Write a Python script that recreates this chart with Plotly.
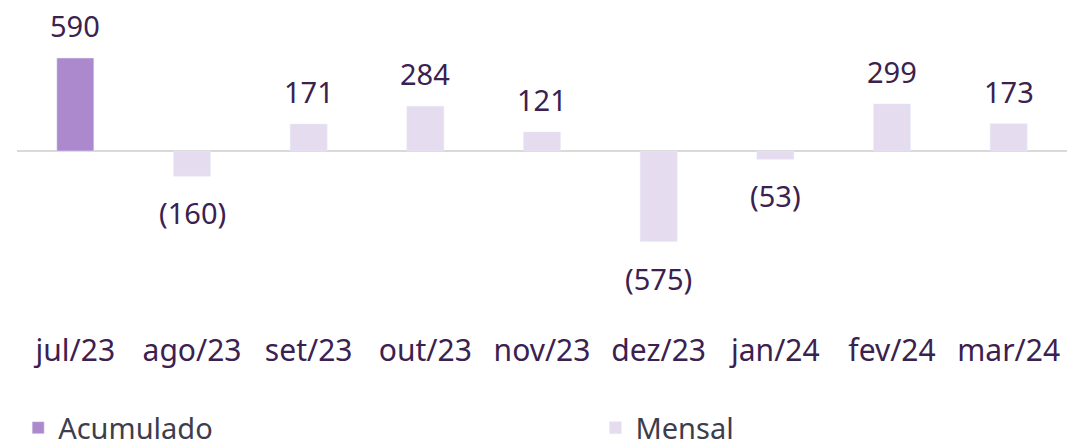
import plotly.graph_objects as go

categories = ["jul/23", "ago/23", "set/23", "out/23", "nov/23", "dez/23", "jan/24", "fev/24", "mar/24"]
acumulado = [590, None, None, None, None, None, None, None, None]
mensal = [None, -160, 171, 284, 121, -575, -53, 299, 173]

FONT = "Century Gothic, URW Gothic, Noto Sans, sans-serif"
TXT = "#3b2150"
C_ACUM = "#ac88cc"
C_MENS = "#e5dcef"


def fmt(v):
    return f"({abs(v):,})" if v < 0 else f"{v:,}"


fig = go.Figure()
fig.add_trace(go.Bar(x=categories, y=acumulado, name="Acumulado", marker_color=C_ACUM,
                     width=0.317, legend="legend"))
fig.add_trace(go.Bar(x=categories, y=mensal, name="Mensal", marker_color=C_MENS,
                     width=0.317, legend="legend2"))

for series in (acumulado, mensal):
    for c, v in zip(categories, series):
        if v is None:
            continue
        fig.add_annotation(
            x=c, y=v, text=fmt(v), showarrow=False,
            yanchor="bottom" if v >= 0 else "top",
            yshift=11 if v >= 0 else -15,
            font=dict(family=FONT, size=29, color=TXT),
        )

legend_common = dict(
    orientation="h", xref="container", yref="container",
    xanchor="left", yanchor="middle", y=0.045,
    font=dict(family=FONT, size=29, color="#3d3d4d"),
    itemclick=False, bgcolor="rgba(0,0,0,0)",
)

fig.update_layout(
    width=1069, height=448,
    margin=dict(l=17, r=2, t=10, b=118),
    paper_bgcolor="white", plot_bgcolor="white",
    barmode="overlay",
    showlegend=True,
    legend=dict(x=0.017, **legend_common),
    legend2=dict(x=0.557, **legend_common),
    xaxis=dict(
        showgrid=False, zeroline=False, showline=False, ticks="",
        tickfont=dict(family=FONT, size=30, color=TXT),
        ticklabelstandoff=0,
    ),
    yaxis=dict(
        range=[-1136, 895], showgrid=False, showticklabels=False,
        zeroline=True, zerolinecolor="#d9d9d9", zerolinewidth=2,
    ),
)

fig.write_html("out.html", config={"displayModeBar": False},
               post_script="document.body.style.margin='0';")
